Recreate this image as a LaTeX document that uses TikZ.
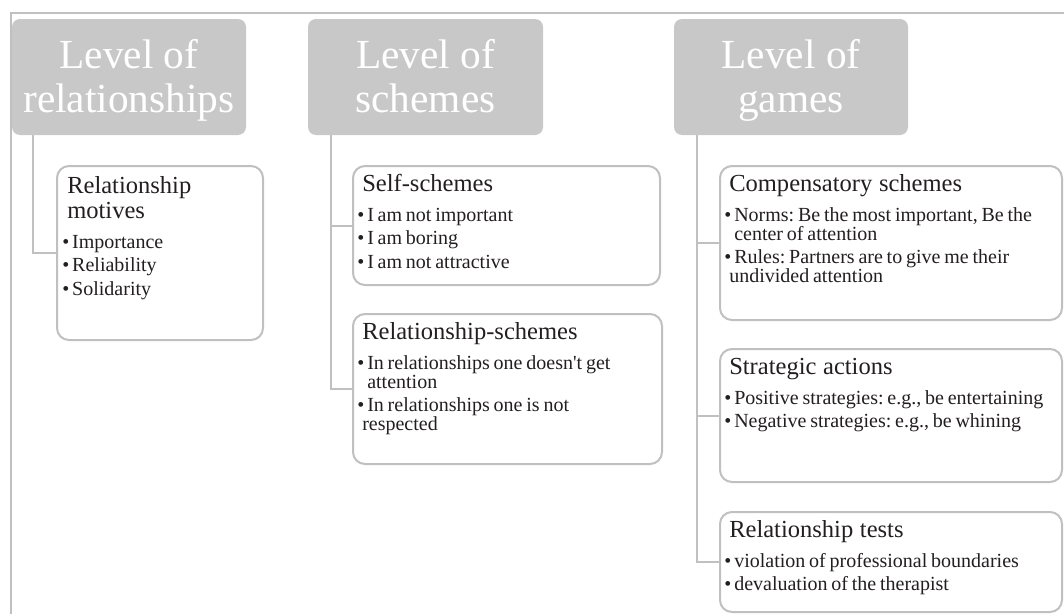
\documentclass[tikz,border=0pt]{standalone}
\usepackage{fontspec}
\setmainfont{Liberation Serif}
\usetikzlibrary{fit}
\definecolor{headgray}{RGB}{200,200,201}
\definecolor{linegray}{RGB}{192,192,192}
\definecolor{textdark}{RGB}{35,31,32}
\newcommand\btitle[1]{{\fontsize{18.4pt}{18.8pt}\selectfont #1\par}\vspace{4.9pt}%
	\frenchspacing\spaceskip=0.19em plus 0.05em\relax}
\newcommand\bul[1]{\par\vspace{3.4pt}\hangindent=0.25em\hangafter=1\noindent\hspace*{-0.25em}\makebox[0.5em][l]{\textbullet}#1}

\begin{document}
\begin{tikzpicture}[x=0.75pt,y=-0.75pt,
	headbox/.style={fill=headgray, rounded corners=6pt, inner sep=0pt},
	headtext/.style={anchor=north, inner sep=0pt, text=white, align=center,
		font={\fontsize{31pt}{33pt}\selectfont}},
	subbox/.style={draw=linegray, line width=1.5pt, fill=white, rounded corners=9pt, inner sep=0pt},
	subtext/.style={anchor=base west, inner sep=0pt, align=left, text=textdark,
		font={\fontsize{15pt}{14.25pt}\selectfont\lineskiplimit=-20pt}},
	conn/.style={draw=linegray, line width=1.5pt}]
			%%%%% START %%%%%
			\def\lw{1.5pt}
			\def\dx{10}
			\def\dy{26}
			\def\hy{20}
			
			\useasboundingbox (0,0) rectangle (1064,614);
			\draw[linegray, line width=\lw] (11,13) rectangle (1090,640);
			
			\node[headbox, fit={(12,19) (246,135)}] (hrel) {};
			\node[headbox, fit={(308,19) (543,135)}] (hsch) {};
			\node[headbox, fit={(674,19) (908,135)}] (hgam) {};
			\node[headtext] (hrelT) at ([shift={(0,\hy)}]hrel.north) {Level of\\relationships};
			\node[headtext] (hschT) at ([shift={(0,\hy)}]hsch.north) {Level of\\schemes};
			\node[headtext] (hgamT) at ([shift={(0,\hy)}]hgam.north) {Level of\\games};
			
			\node[subbox, fit={(57,166) (263,340)}] (mot) {};
			\node[subbox, fit={(353,166) (660,285)}] (self) {};
			\node[subbox, fit={(353,314) (662,464)}] (rsch) {};
			\node[subbox, fit={(720,166) (1062,320)}] (comp) {};
			\node[subbox, fit={(720,349) (1062,482)}] (strat) {};
			\node[subbox, fit={(720,512) (1062,612)}] (test) {};
			
			\node[subtext, text width=140pt] (motT) at ([shift={(\dx+1,\dy+2)}]mot.north west)
				{\btitle{Relationship\newline motives}\bul{Importance}\bul{Reliability}\bul{Solidarity}};
			\node[subtext, text width=220pt] (selfT) at ([shift={(\dx,\dy)}]self.north west)
				{\btitle{Self-schemes}\bul{I am not important}\bul{I am boring}\bul{I am not attractive}};
			\node[subtext, text width=220pt] (rschT) at ([shift={(\dx,\dy)}]rsch.north west)
				{\btitle{Relationship-schemes}\bul{In relationships one doesn\textquotesingle t get\newline attention}\bul{In relationships one is not\newline respected}};
			\node[subtext, text width=255pt] (compT) at ([shift={(\dx,\dy)}]comp.north west)
				{\btitle{Compensatory schemes}\bul{Norms: Be the most important, Be the\newline center of attention}\bul{Rules: Partners are to give me their\newline undivided attention}};
			\node[subtext, text width=255pt] (stratT) at ([shift={(\dx,\dy)}]strat.north west)
				{\btitle{Strategic actions}\bul{Positive strategies: e.g., be entertaining}\bul{Negative strategies: e.g., be whining}};
			\node[subtext, text width=255pt] (testT) at ([shift={(\dx,\dy)}]test.north west)
				{\btitle{Relationship tests}\bul{violation of professional boundaries}\bul{devaluation of the therapist}};
			
			\draw[conn] ([shift={(21,0)}]hrel.south west) |- (mot.west);
			\draw[conn] ([shift={(23,0)}]hsch.south west) |- (self.west);
			\draw[conn] ([shift={(23,0)}]hsch.south west) |- (rsch.west);
			\draw[conn] ([shift={(23,0)}]hgam.south west) |- (comp.west);
			\draw[conn] ([shift={(23,0)}]hgam.south west) |- (strat.west);
			\draw[conn] ([shift={(23,0)}]hgam.south west) |- (test.west);
			%%%%% END %%%%%
\end{tikzpicture}
\end{document}
